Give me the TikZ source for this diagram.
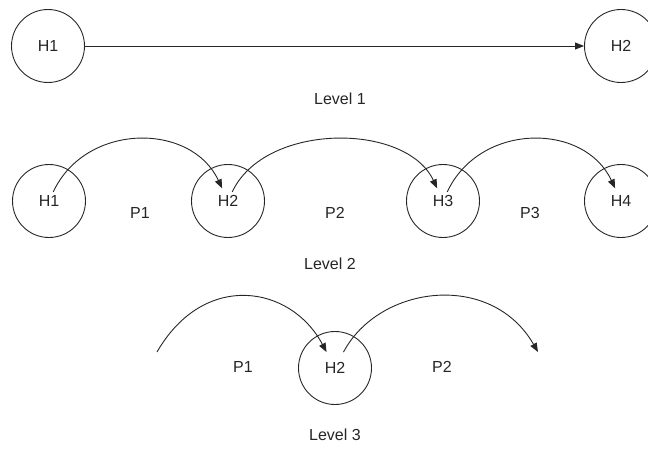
\documentclass[tikz,border=0pt]{standalone}
\usepackage{fontspec}
\setmainfont{Liberation Sans}
\usetikzlibrary{arrows.meta}
\begin{document}
\begin{tikzpicture}[x=1pt,y=1pt,
        host/.style={draw=black!85,circle,minimum size=73pt,inner sep=0pt,line width=0.9pt,text=black!85},
        hop/.style={-{Triangle[length=9pt,width=7pt]},line width=0.9pt,draw=black!85},
        every node/.style={font=\fontsize{16}{19}\selectfont,text=black!85}]
        \useasboundingbox (0,0) rectangle (648,451);
        % level 1
        \node[host] (a1) at (48,405) {H1};
        \node[host] (a2) at (621,405) {H2};
        \draw[hop] (a1) -- (a2);
        \node (l1) at (340,352) {Level 1};
        % level 2
        \node[host] (b1) at (49,250) {H1};
        \node[host] (b2) at (228,250) {H2};
        \node[host] (b3) at (443,250) {H3};
        \node[host] (b4) at (621,250) {H4};
        \draw[hop,shorten <=10pt,shorten >=14pt] (b1.center) .. controls +(65:87) and +(115:87) .. (b2.center);
        \draw[hop,shorten <=10pt,shorten >=14pt] (b2.center) .. controls +(65:87) and +(115:87) .. (b3.center);
        \draw[hop,shorten <=10pt,shorten >=14pt] (b3.center) .. controls +(65:87) and +(115:87) .. (b4.center);
        \node (p1) at (140,238) {P1};
        \node (p2) at (335,238) {P2};
        \node (p3) at (530,238) {P3};
        \node (l2) at (330,187) {Level 2};
        % level 3
        \node[host] (c2) at (335,83) {H2};
        \coordinate (cs) at (157,99);
        \coordinate (ce) at (538,99);
        \draw[hop,shorten >=18pt] (cs) .. controls +(60:94) and +(118:94) .. (c2.center);
        \draw[hop,shorten <=18pt] (c2.center) .. controls +(62:94) and +(120:94) .. (ce);
        \node (q1) at (243,84) {P1};
        \node (q2) at (442,84) {P2};
        \node (l3) at (335,16) {Level 3};
\end{tikzpicture}
\end{document}
